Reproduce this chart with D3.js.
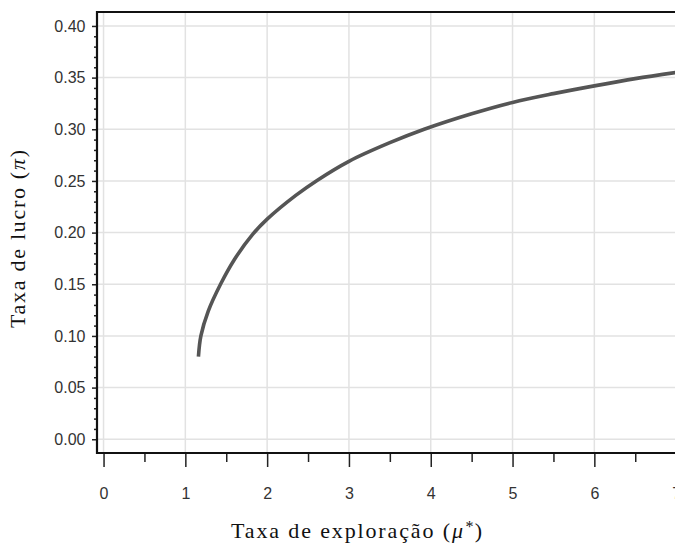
<!DOCTYPE html>
<html>
<head>
<meta charset="utf-8">
<script src="https://cdn.jsdelivr.net/npm/d3@7"></script>
<style>
  body { margin: 0; background: #fff; }
  svg { display: block; }
</style>
</head>
<body>
<div id="chart"></div>
<script>
// taxa de exploracao (mu*) vs taxa de lucro (pi)
const mu = [1.16, 1.19, 1.28, 1.43, 1.6, 1.82, 2.0, 2.35, 2.61, 3.0, 3.5, 3.92, 4.5, 5.0, 5.5, 6.0, 6.5, 7.0]
const profit = [0.080, 0.100, 0.124, 0.150, 0.174, 0.198, 0.213, 0.236, 0.2505, 0.269, 0.287, 0.300, 0.315, 0.326, 0.3345, 0.342, 0.349, 0.355]

const xTicks = [0, 1, 2, 3, 4, 5, 6, 7]
const yTicks = [0, 0.05, 0.10, 0.15, 0.20, 0.25, 0.30, 0.35, 0.40]

const width = 675
const height = 544
const plot = { left: 97, top: 12, bottom: 453 }

const x = d3.scaleLinear().domain([-0.08, 7.5]).range([plot.left, plot.left + 7.58 * 81.8])
const y = d3.scaleLinear().domain([-0.0133, 0.4135]).range([plot.bottom, plot.top])

const svg = d3.select('#chart').append('svg')
  .attr('width', width)
  .attr('height', height)

// grid
svg.append('g').selectAll('line.vx')
  .data(xTicks).enter()
  .append('line')
  .attr('x1', d => x(d)).attr('x2', d => x(d))
  .attr('y1', plot.top).attr('y2', plot.bottom)
  .attr('stroke', '#e2e2e2').attr('stroke-width', 1.5)

svg.append('g').selectAll('line.hy')
  .data(yTicks).enter()
  .append('line')
  .attr('x1', plot.left).attr('x2', width)
  .attr('y1', d => y(d)).attr('y2', d => y(d))
  .attr('stroke', '#e2e2e2').attr('stroke-width', 1.5)

// curve
const line = d3.line()
  .x((d, i) => x(mu[i]))
  .y(d => y(d))
  .curve(d3.curveCatmullRom.alpha(0.5))

svg.append('path')
  .datum(profit)
  .attr('d', line)
  .attr('fill', 'none')
  .attr('stroke', '#555')
  .attr('stroke-width', 3.6)

// minor ticks
const yMinor = d3.range(0, 41).map(i => i / 100).filter(v => Math.round(v * 100) % 5 !== 0)
svg.append('g')
  .attr('transform', `translate(${plot.left},0)`)
  .call(d3.axisLeft(y).tickValues(yMinor).tickSize(3).tickFormat(''))
  .call(g => g.select('.domain').remove())
  .call(g => g.selectAll('line').attr('stroke', '#222').attr('stroke-width', 1.5))

const xMinor = [0.5, 1.5, 2.5, 3.5, 4.5, 5.5, 6.5]
svg.append('g')
  .attr('transform', `translate(0,${plot.bottom})`)
  .call(d3.axisBottom(x).tickValues(xMinor).tickSize(9).tickFormat(''))
  .call(g => g.select('.domain').remove())
  .call(g => g.selectAll('line').attr('stroke', '#222').attr('stroke-width', 1.5))

// major axes
const yAxis = svg.append('g')
  .attr('transform', `translate(${plot.left},0)`)
  .call(d3.axisLeft(y).tickValues(yTicks).tickSize(5).tickPadding(6.5).tickFormat(d3.format('.2f')))
yAxis.select('.domain').remove()
yAxis.selectAll('line').attr('stroke', '#222').attr('stroke-width', 1.5)
yAxis.selectAll('text')
  .attr('font-family', '"Liberation Sans", Arial, sans-serif')
  .attr('font-size', 16)
  .attr('fill', '#333')

const xAxis = svg.append('g')
  .attr('transform', `translate(0,${plot.bottom})`)
  .call(d3.axisBottom(x).tickValues(xTicks).tickSize(14).tickPadding(21).tickFormat(d3.format('d')))
xAxis.select('.domain').remove()
xAxis.selectAll('line').attr('stroke', '#222').attr('stroke-width', 1.5)
xAxis.selectAll('text')
  .attr('font-family', '"Liberation Sans", Arial, sans-serif')
  .attr('font-size', 16)
  .attr('fill', '#333')

// frame: top, left, bottom
svg.append('path')
  .attr('d', `M${width},${plot.top}H${plot.left}V${plot.bottom}H${width}`)
  .attr('fill', 'none')
  .attr('stroke', '#111')
  .attr('stroke-width', 2.2)

// axis titles
const xTitle = svg.append('text')
  .attr('x', 356.5)
  .attr('y', 538)
  .attr('text-anchor', 'middle')
  .attr('font-family', '"Liberation Serif", "Times New Roman", serif')
  .attr('font-size', 22)
  .attr('fill', '#111')
  .attr('textLength', 251)
  .attr('lengthAdjust', 'spacing')
xTitle.append('tspan').text('Taxa de exploração (')
xTitle.append('tspan').attr('font-style', 'italic').text('μ')
xTitle.append('tspan').attr('font-style', 'italic').attr('dy', -6).attr('font-size', 16).text('*')
xTitle.append('tspan').attr('dy', 6).text(')')

const yTitle = svg.append('text')
  .attr('transform', 'translate(25,239) rotate(-90)')
  .attr('text-anchor', 'middle')
  .attr('font-family', '"Liberation Serif", "Times New Roman", serif')
  .attr('font-size', 22)
  .attr('fill', '#111')
  .attr('textLength', 178)
  .attr('lengthAdjust', 'spacing')
yTitle.append('tspan').text('Taxa de lucro (')
yTitle.append('tspan').attr('font-style', 'italic').text('π')
yTitle.append('tspan').text(')')
</script>
</body>
</html>
